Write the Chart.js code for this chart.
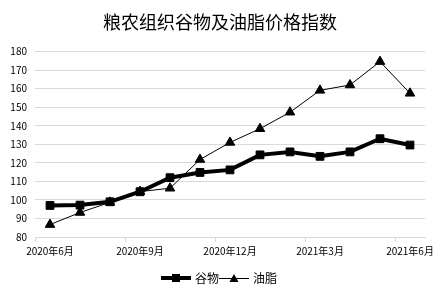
<!DOCTYPE html>
<html>
<head>
<meta charset="utf-8">
<script src="https://cdn.jsdelivr.net/npm/chart.js@4/dist/chart.umd.min.js"></script>
<style>
  html, body { margin: 0; padding: 0; background: #fff; }
  canvas { display: block; }
</style>
</head>
<body>
<canvas id="c" width="440" height="298"></canvas>
<script>
const months = ['2020年6月','2020年7月','2020年8月','2020年9月','2020年10月','2020年11月','2020年12月',
                '2021年1月','2021年2月','2021年3月','2021年4月','2021年5月','2021年6月'];
const cereals = [97.0, 97.2, 99.0, 104.4, 112.0, 114.8, 116.2, 124.3, 125.9, 123.5, 125.9, 133.0, 129.6];
const oils    = [86.7, 93.2, 98.7, 104.5, 106.3, 121.8, 131.0, 138.4, 147.3, 159.1, 162.0, 174.6, 157.5];
const seriesNames = ['谷物', '油脂'];
const yTicks = [80, 90, 100, 110, 120, 130, 140, 150, 160, 170, 180];
const titleText = '粮农组织谷物及油脂价格指数';

const FONT = "'Noto Sans CJK SC', 'Noto Sans', sans-serif";
Chart.defaults.font.family = FONT;
Chart.defaults.color = '#000';

function legendImg(kind) {
  const c = document.createElement('canvas');
  c.width = 30; c.height = 12;
  const g = c.getContext('2d');
  g.strokeStyle = '#000'; g.fillStyle = '#000';
  if (kind === 'rect') {
    g.lineWidth = 4;
    g.beginPath(); g.moveTo(0, 6); g.lineTo(30, 6); g.stroke();
    g.fillRect(11, 2, 8, 8);
  } else {
    g.lineWidth = 1;
    g.beginPath(); g.moveTo(0, 6.5); g.lineTo(30, 6.5); g.stroke();
    g.beginPath(); g.moveTo(15, 2); g.lineTo(19.5, 10); g.lineTo(10.5, 10); g.closePath(); g.fill();
  }
  return c;
}
const legendImgs = [legendImg('rect'), legendImg('tri')];

new Chart(document.getElementById('c'), {
  type: 'line',
  data: {
    labels: months,
    datasets: [
      {
        label: seriesNames[0], data: cereals, yAxisID: 'y',
        borderColor: '#000', borderWidth: 4, tension: 0,
        pointStyle: 'rect', pointRadius: 5.5, pointBackgroundColor: '#000',
        pointBorderColor: '#000', pointBorderWidth: 1
      },
      {
        label: seriesNames[1], data: oils, yAxisID: 'y',
        borderColor: '#000', borderWidth: 1, tension: 0,
        pointStyle: 'triangle', pointRadius: 5.5, pointBackgroundColor: '#000',
        pointBorderColor: '#000', pointBorderWidth: 1
      }
    ]
  },
  options: {
    responsive: false,
    devicePixelRatio: 1,
    animation: false,
    layout: { padding: { left: 0, right: 0, top: 0, bottom: 4 } },
    plugins: {
      tooltip: { enabled: false },
      title: {
        display: true, text: titleText, color: '#000',
        font: { size: 18, weight: 'normal', family: FONT },
        padding: { top: 11, bottom: 19 }
      },
      legend: {
        display: true, position: 'bottom',
        labels: {
          usePointStyle: true, pointStyleWidth: 26, padding: 2,
          font: { size: 12, family: FONT }, color: '#000',
          generateLabels: (chart) => chart.data.datasets.map((ds, i) => ({
            text: ds.label, pointStyle: legendImgs[i], datasetIndex: i,
            hidden: false, lineWidth: 0, fillStyle: '#000', strokeStyle: '#000', fontColor: '#000'
          }))
        }
      }
    },
    scales: {
      x: {
        offset: true,
        grid: {
          offset: true, drawOnChartArea: false, drawTicks: true, tickLength: 5,
          color: (ctx) => (ctx.index % 3 === 0 ? '#d9d9d9' : 'rgba(0,0,0,0)')
        },
        border: { display: true, color: '#d9d9d9', width: 1 },
        ticks: {
          autoSkip: false, maxRotation: 0, minRotation: 0, padding: 3,
          font: { size: 10, family: FONT }, color: '#000',
          callback: (v, i) => (i % 3 === 0 ? months[i] : '')
        },
        afterFit: (s) => { s.height = 33; }
      },
      y: {
        position: 'left',
        min: 80, max: 180,
        afterBuildTicks: (s) => { s.ticks = yTicks.map(v => ({ value: v })); },
        grid: { color: '#d9d9d9', drawTicks: false, lineWidth: 1 },
        border: { display: false },
        ticks: { padding: 8, font: { size: 10, family: FONT }, color: '#000' },
        afterFit: (s) => { s.width = 35; }
      },
      yR: {
        position: 'right', display: true,
        ticks: { display: false },
        grid: { display: false, drawTicks: false },
        border: { display: false },
        afterFit: (s) => { s.width = 15; }
      }
    }
  }
});
</script>
</body>
</html>
